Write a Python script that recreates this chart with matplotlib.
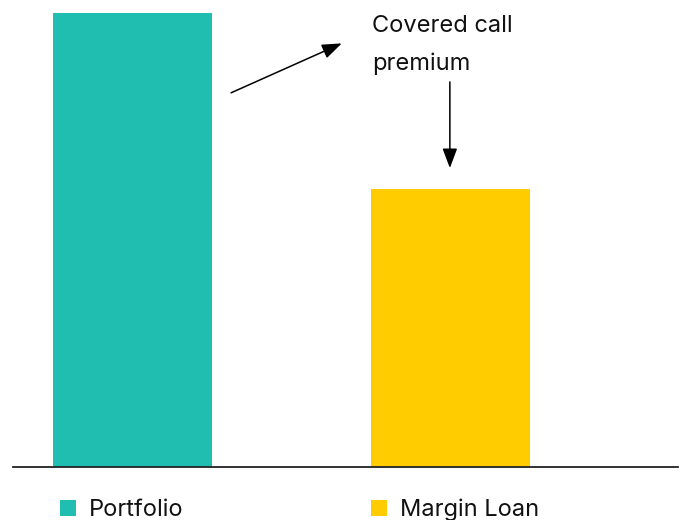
import matplotlib
matplotlib.use("Agg")
import matplotlib.pyplot as plt
from matplotlib.patches import Rectangle

plt.rcParams['font.family'] = ['Inter', 'DejaVu Sans']

categories = ['Portfolio', 'Margin Loan']
values = [100, 61.2]
colors = ['#1FBEB0', '#FFCC00']
note_lines = ['Covered call', 'premium']

W, H = 681, 520
fig = plt.figure(figsize=(W / 100, H / 100), dpi=100)
ax = fig.add_axes([13 / W, 53.5 / H, 665 / W, 453.5 / H])

x = list(range(len(categories)))
ax.bar(x, values, width=0.5, color=colors)
ax.set_xlim(-0.3758, 1.7154)
ax.set_ylim(0, 100)

for s in ['top', 'right', 'left']:
    ax.spines[s].set_visible(False)
ax.spines['bottom'].set_color('#222222')
ax.spines['bottom'].set_linewidth(1.3)
ax.set_xticks([])
ax.set_yticks([])

arrow = dict(arrowstyle='-|>,head_length=0.8,head_width=0.3', mutation_scale=15,
             color='black', lw=1.1, shrinkA=0, shrinkB=0)
ax.annotate('', xy=(0.658, 93.3), xytext=(0.310, 82.4), arrowprops=arrow,
            annotation_clip=False)
ax.annotate('', xy=(0.998, 65.8), xytext=(0.998, 84.8), arrowprops=arrow,
            annotation_clip=False)
for line, py in zip(note_lines, [32, 70]):
    ax.text(0.753, (466.5 - py) / 4.535, line, fontsize=17,
            ha='left', va='baseline', color='#111111', clip_on=False)

# legend drawn manually to keep the wide spacing
leg_x = [60, 371]
for lx, lab, col in zip(leg_x, categories, colors):
    fig.add_artist(Rectangle((lx / W, (520 - 516) / H), 16 / W, 16 / H,
                             transform=fig.transFigure, color=col, lw=0))
    fig.text((lx + 29) / W, (520 - 516) / H, lab, fontsize=17,
             ha='left', va='baseline', color='#111111')

fig.savefig('out.png', dpi=100)
